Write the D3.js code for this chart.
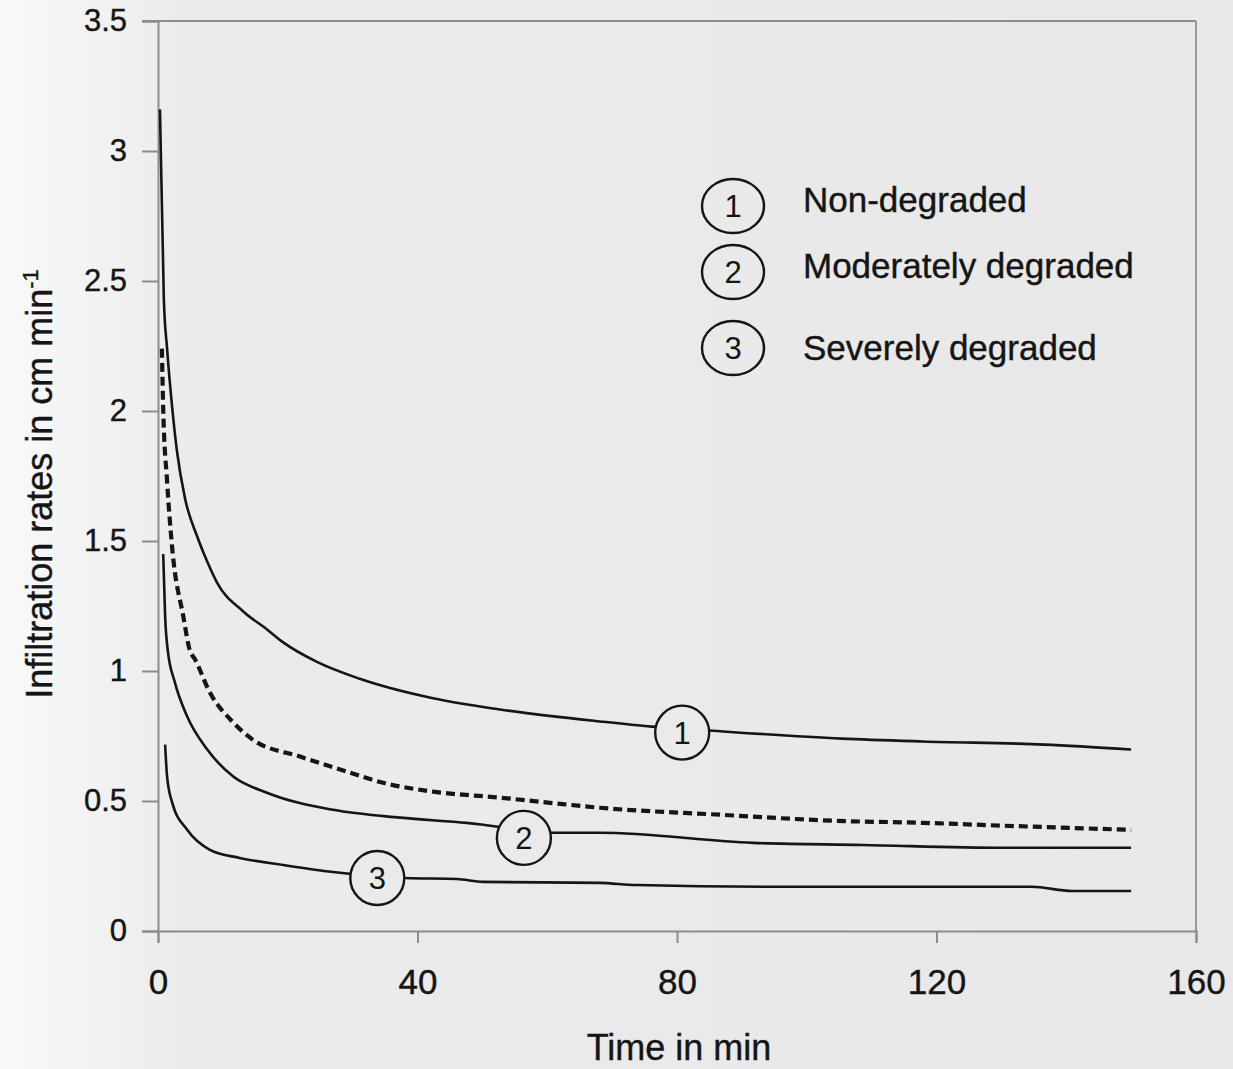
<!DOCTYPE html>
<html>
<head>
<meta charset="utf-8">
<script src="https://cdn.jsdelivr.net/npm/d3@7"></script>
<style>
  html, body { margin: 0; padding: 0; background: #ebebeb; }
  svg { display: block; font-family: "Liberation Sans", Arial, sans-serif; }
</style>
</head>
<body>
<div id="chart"></div>
<script>
// time in min
const nonDegradedT = [0.3, 0.9, 1.4, 2.2, 2.9, 4.2, 6, 7.6, 9.1, 13.1, 16.8, 19.3, 24.5, 31.1, 42.4, 52.7, 68.1, 76.1, 84.9, 105.4, 117.9, 136.6, 150];
const nonDegradedV = [3.16, 2.43, 2.24, 2.01, 1.85, 1.66, 1.52, 1.42, 1.34, 1.23, 1.16, 1.11, 1.035, 0.97, 0.895, 0.852, 0.806, 0.786, 0.771, 0.74, 0.729, 0.717, 0.698];

const moderateT = [0.8, 1.1, 1.5, 2.6, 4.5, 7.6, 11.6, 16.8, 27, 37.3, 47.6, 61.5, 68.1, 91.7, 108.5, 130.4, 150];
const moderateV = [1.45, 1.21, 1.08, 0.956, 0.825, 0.698, 0.594, 0.532, 0.466, 0.436, 0.416, 0.378, 0.378, 0.339, 0.331, 0.32, 0.32];

const severeT = [1.1, 1.4, 2.2, 4.5, 8, 12.6, 19.3, 27, 38.1, 46.1, 50.1, 68.1, 73.7, 97.4, 134.7, 140.9, 150];
const severeV = [0.717, 0.594, 0.493, 0.389, 0.312, 0.281, 0.254, 0.227, 0.204, 0.2, 0.189, 0.185, 0.177, 0.17, 0.17, 0.154, 0.154];

const meanT = [0.6, 0.8, 1.4, 2.2, 3.9, 4.9, 5.7, 8, 11.6, 14.6, 21.9, 29.6, 34.7, 42.4, 52.7, 60.4, 68.1, 86.8, 104.2, 117.9, 130.4, 150];
const meanV = [2.24, 2.01, 1.73, 1.47, 1.21, 1.08, 1.045, 0.917, 0.802, 0.736, 0.671, 0.609, 0.57, 0.536, 0.513, 0.493, 0.474, 0.447, 0.424, 0.416, 0.405, 0.389];

const xTicks = [0, 40, 80, 120, 160];
const yTicks = [0, 0.5, 1, 1.5, 2, 2.5, 3, 3.5];
const yTickLabels = ["0", "0.5", "1", "1.5", "2", "2.5", "3", "3.5"];

const legendNums = ["1", "2", "3"];
const legendNames = ["Non-degraded", "Moderately degraded", "Severely degraded"];

// where the numbered circles sit on the curves
const curveLabelT = [80.8, 56.4, 33.8];
const curveLabelV = [0.763, 0.358, 0.204];

const width = 1233, height = 1069;
const margin = { top: 21, right: 37, bottom: 138, left: 158 };

const svg = d3.select("#chart").append("svg")
  .attr("width", width)
  .attr("height", height);

// scanned page background
const grad = svg.append("defs").append("linearGradient")
  .attr("id", "bg").attr("x1", 0).attr("x2", 1).attr("y1", 0).attr("y2", 0);
grad.append("stop").attr("offset", "0").attr("stop-color", "#f9f9f9");
grad.append("stop").attr("offset", "0.08").attr("stop-color", "#f2f2f2");
grad.append("stop").attr("offset", "0.15").attr("stop-color", "#ebebeb");
grad.append("stop").attr("offset", "1").attr("stop-color", "#e8e8e8");
svg.append("rect").attr("width", width).attr("height", height).attr("fill", "url(#bg)");

const x = d3.scaleLinear().domain([0, 160]).range([margin.left, width - margin.right]);
const y = d3.scaleLinear().domain([0, 3.5]).range([height - margin.bottom, margin.top]);

const axisColor = "#8c8c8c";
const ink = "#151515";

// frame top and right
svg.append("line")
  .attr("x1", x(0) - 16).attr("x2", x(160))
  .attr("y1", y(3.5)).attr("y2", y(3.5))
  .attr("stroke", axisColor).attr("stroke-width", 2);
svg.append("line")
  .attr("x1", x(160)).attr("x2", x(160))
  .attr("y1", y(3.5)).attr("y2", y(0))
  .attr("stroke", "#9a9a9a").attr("stroke-width", 2);

// y axis
const yAxis = d3.axisLeft(y)
  .tickValues(yTicks)
  .tickSize(16)
  .tickPadding(15)
  .tickFormat((d, i) => yTickLabels[i]);

const gy = svg.append("g")
  .attr("transform", "translate(" + x(0) + ",0)")
  .call(yAxis);
gy.select(".domain").attr("stroke", axisColor).attr("stroke-width", 2);
gy.selectAll(".tick line").attr("stroke", axisColor).attr("stroke-width", 2);
gy.selectAll(".tick text")
  .attr("fill", ink)
  .attr("stroke", ink).attr("stroke-width", 0.4)
  .style("font-size", "31px");

// x axis
const xAxis = d3.axisBottom(x)
  .tickValues(xTicks)
  .tickSize(12)
  .tickPadding(26)
  .tickFormat(d3.format("d"));

const gx = svg.append("g")
  .attr("transform", "translate(0," + y(0) + ")")
  .call(xAxis);
gx.select(".domain").attr("stroke", axisColor).attr("stroke-width", 2);
gx.selectAll(".tick line").attr("stroke", axisColor).attr("stroke-width", 2);
gx.selectAll(".tick text")
  .attr("fill", ink)
  .attr("stroke", ink).attr("stroke-width", 0.4)
  .style("font-size", "35px");

// axis titles
svg.append("text")
  .attr("x", (x(0) + x(160)) / 2 + 2)
  .attr("y", 1060)
  .attr("text-anchor", "middle")
  .attr("fill", ink)
  .attr("stroke", ink).attr("stroke-width", 0.4)
  .style("font-size", "36px")
  .text("Time in min");

const yTitle = svg.append("text")
  .attr("transform", "translate(52," + 484 + ") rotate(-90)")
  .attr("text-anchor", "middle")
  .attr("fill", ink)
  .attr("stroke", ink).attr("stroke-width", 0.4)
  .style("font-size", "36px");
yTitle.append("tspan").text("Infiltration rates in cm min");
yTitle.append("tspan").attr("dy", -14).style("font-size", "22px").text("-1");

// curves
const line = d3.line()
  .x(d => x(d[0]))
  .y(d => y(d[1]))
  .curve(d3.curveMonotoneX);

const zip = (t, v) => t.map((d, i) => [d, v[i]]);

const plot = svg.append("g");

plot.append("path")
  .datum(zip(meanT, meanV))
  .attr("d", line)
  .attr("fill", "none")
  .attr("stroke", ink)
  .attr("stroke-width", 4.2)
  .attr("stroke-dasharray", "9,5");

[zip(nonDegradedT, nonDegradedV), zip(moderateT, moderateV), zip(severeT, severeV)].forEach(data => {
  plot.append("path")
    .datum(data)
    .attr("d", line)
    .attr("fill", "none")
    .attr("stroke", ink)
    .attr("stroke-width", 2.6)
    .attr("stroke-linejoin", "round");
});

// numbered circles on curves
curveLabelT.forEach((t, i) => {
  const g = plot.append("g").attr("transform", "translate(" + x(t) + "," + y(curveLabelV[i]) + ")");
  g.append("ellipse")
    .attr("rx", 27).attr("ry", 27)
    .attr("fill", "#eaeaea")
    .attr("stroke", ink).attr("stroke-width", 2.4);
  g.append("text")
    .attr("text-anchor", "middle")
    .attr("y", 11)
    .attr("fill", ink)
    .style("font-size", "31px")
    .text(legendNums[i]);
});

// legend
const legend = svg.append("g").attr("transform", "translate(733,206)");
legendNames.forEach((name, i) => {
  const dy = [0, 66, 142][i];
  const g = legend.append("g").attr("transform", "translate(0," + dy + ")");
  g.append("ellipse")
    .attr("rx", 31).attr("ry", 27)
    .attr("fill", "none")
    .attr("stroke", ink).attr("stroke-width", 2.4);
  g.append("text")
    .attr("text-anchor", "middle")
    .attr("y", 11)
    .attr("fill", ink)
    .style("font-size", "31px")
    .text(legendNums[i]);
  g.append("text")
    .attr("x", 70)
    .attr("y", 6 + [0, 0, 6][i])
    .attr("fill", ink)
    .attr("stroke", ink).attr("stroke-width", 0.4)
    .style("font-size", "35px")
    .text(name);
});
</script>
</body>
</html>
